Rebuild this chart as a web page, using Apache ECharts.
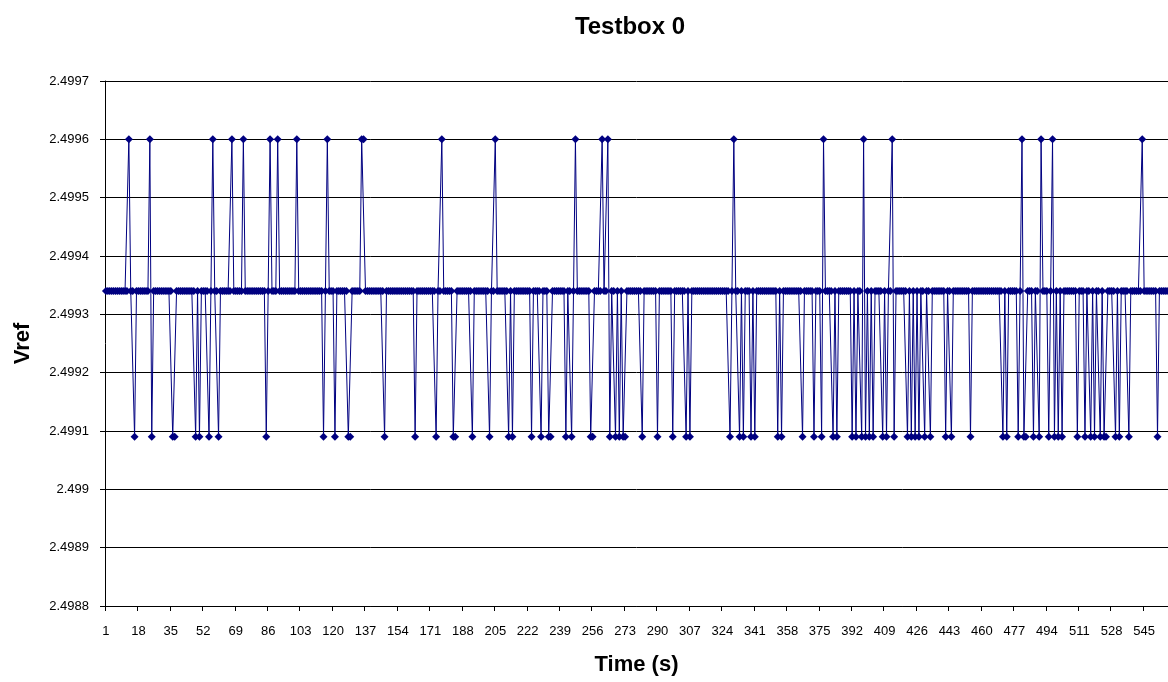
<!DOCTYPE html>
<html>
<head>
<meta charset="utf-8">
<title>Testbox 0</title>
<script src="https://cdn.jsdelivr.net/npm/echarts@6/dist/echarts.min.js"></script>
<style>
  html, body { margin: 0; padding: 0; background: #fff; }
  #chart { width: 1168px; height: 682px; }
</style>
</head>
<body>
<div id="chart"></div>
<script>
// Vref readings, one per second. Most samples sit at the resting level;
// the lists below give the seconds at which the reading jumped up or down.
const sampleCount = 557;
const restingVref = 2.49934;
const highVref = 2.49960;
const lowVref = 2.49909;

const highTimes = [13, 24, 57, 67, 73, 87, 91, 101, 117, 135, 136, 177, 205, 247,
  261, 264, 330, 377, 398, 413, 481, 491, 497, 544];

const lowTimes = [16, 25, 36, 37, 48, 50, 55, 60, 85, 115, 121, 128, 129, 147,
  163, 174, 183, 184, 193, 202, 212, 214, 224, 229, 233, 234, 242, 245,
  255, 256, 265, 268, 270, 272, 273, 282, 290, 298, 305, 307, 328, 333,
  335, 339, 341, 353, 355, 366, 372, 376, 382, 384, 392, 394, 397, 399,
  401, 403, 408, 410, 414, 421, 423, 425, 427, 430, 433, 441, 444, 454,
  471, 473, 479, 482, 483, 487, 490, 495, 498, 500, 502, 510, 514, 517,
  519, 522, 524, 525, 530, 532, 537, 552];

const yMin = 2.4988, yMax = 2.4997, yStep = 0.0001;

// Time categories 1..N and the matching readings
const times = [];
const vref = [];
const highSet = new Set(highTimes);
const lowSet = new Set(lowTimes);
for (let t = 1; t <= sampleCount; t++) {
  times.push(String(t));
  vref.push(highSet.has(t) ? highVref : (lowSet.has(t) ? lowVref : restingVref));
}

const navy = '#000080';
const font = '"Liberation Sans", Arial, sans-serif';

const chart = echarts.init(document.getElementById('chart'), null, { renderer: 'canvas' });
chart.setOption({
  animation: false,
  backgroundColor: '#ffffff',
  graphic: [{
    type: 'text', x: 630, y: 27,
    style: { text: 'Testbox 0', font: 'bold 24px ' + font, fill: '#000',
             textAlign: 'center', textVerticalAlign: 'middle' }
  }],
  grid: { left: 105, right: -3, top: 81, bottom: 76, containLabel: false },
  xAxis: {
    type: 'category',
    data: times,
    boundaryGap: true,
    name: 'Time (s)',
    nameLocation: 'middle',
    nameGap: 48,
    nameTextStyle: { fontFamily: font, fontSize: 22, fontWeight: 'bold', color: '#000' },
    axisLine: { lineStyle: { color: '#000', width: 1 } },
    axisTick: { show: true, interval: 16, length: 5, lineStyle: { color: '#000' } },
    axisLabel: { interval: 16, margin: 19, fontFamily: font, fontSize: 13, color: '#000' },
    splitLine: { show: false }
  },
  yAxis: {
    type: 'value',
    min: yMin,
    max: yMax,
    interval: yStep,
    name: 'Vref',
    nameLocation: 'middle',
    nameRotate: 90,
    nameGap: 71,
    nameTextStyle: { fontFamily: font, fontSize: 22, fontWeight: 'bold', color: '#000' },
    axisLine: { show: true, lineStyle: { color: '#000', width: 1 } },
    axisTick: { show: true, length: 5, lineStyle: { color: '#000' } },
    axisLabel: {
      margin: 16, fontFamily: font, fontSize: 13, color: '#000',
      formatter: v => String(parseFloat(v.toFixed(4)))
    },
    splitLine: { show: true, lineStyle: { color: '#000', width: 1 } }
  },
  series: [{
    type: 'line',
    data: vref,
    symbol: 'diamond',
    symbolSize: [8, 8],
    showAllSymbol: true,
    lineStyle: { color: navy, width: 1 },
    itemStyle: { color: navy, borderWidth: 0 }
  }]
});
</script>
</body>
</html>
